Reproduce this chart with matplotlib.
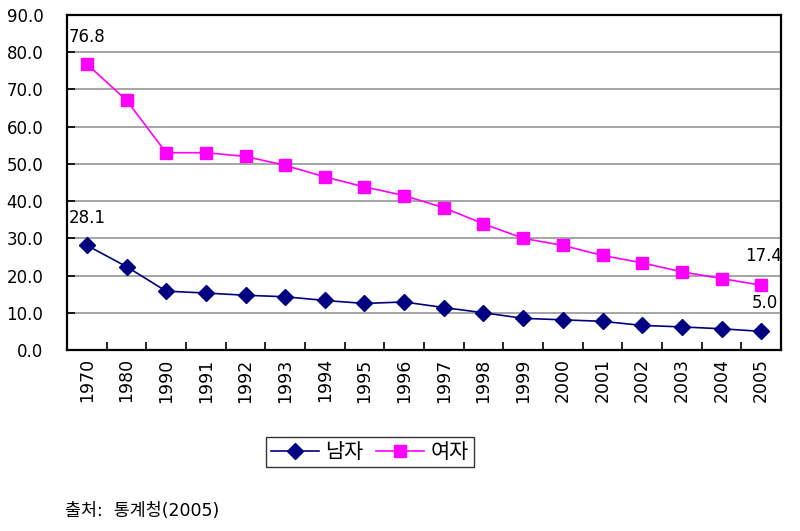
import matplotlib
matplotlib.use("Agg")
import matplotlib.pyplot as plt
import numpy as np

plt.rcParams['font.family'] = ['DejaVu Sans', 'Noto Sans CJK KR']

years = ['1970', '1980', '1990', '1991', '1992', '1993', '1994', '1995', '1996',
         '1997', '1998', '1999', '2000', '2001', '2002', '2003', '2004', '2005']
male = [28.1, 22.4, 15.8, 15.3, 14.7, 14.3, 13.3, 12.5, 12.9,
        11.4, 10.0, 8.5, 8.1, 7.7, 6.6, 6.2, 5.7, 5.0]
female = [76.8, 67.1, 53.0, 53.0, 52.0, 49.6, 46.5, 43.8, 41.5,
          38.2, 33.9, 30.0, 28.1, 25.4, 23.4, 21.0, 19.2, 17.4]
series_names = ['남자', '여자']
yticks = np.arange(0, 91, 10)

fig = plt.figure(figsize=(8, 5.31), dpi=100)
ax = fig.add_axes([0.08375, 0.3409, 0.8925, 0.6309])

x = np.arange(len(years))
ax.plot(x, male, color='#000080', lw=1.2, marker='D', ms=8,
        label=series_names[0], zorder=3)
ax.plot(x, female, color='#FF00FF', lw=1.2, marker='s', ms=8,
        label=series_names[1], zorder=3)

ax.set_xlim(-0.5, len(years) - 0.5)
ax.set_ylim(0, 90)
ax.set_yticks(yticks)
ax.set_yticklabels(['{:.1f}'.format(v) for v in yticks])
ax.yaxis.grid(True, color='#969696', lw=1.2)
ax.set_axisbelow(True)

ax.set_xticks(x)
ax.set_xticklabels(years, rotation=90, fontsize=12.5)
ax.set_xticks(np.arange(0.5, len(years) - 1, 1), minor=True)
ax.tick_params(axis='x', which='major', length=0, pad=6)
ax.tick_params(axis='x', which='minor', direction='in', length=6, width=1.2)
ax.tick_params(axis='y', direction='in', length=6, width=1.2, pad=17, labelsize=12)

for sp in ax.spines.values():
    sp.set_color('black')
    sp.set_linewidth(1.6)

# end-point labels
ann = dict(textcoords='offset pixels', fontsize=12, va='center')
ax.annotate('{:.1f}'.format(female[0]), (0, female[0]), xytext=(-18, 27), ha='left', **ann)
ax.annotate('{:.1f}'.format(male[0]), (0, male[0]), xytext=(-18, 27), ha='left', **ann)
ax.annotate('{:.1f}'.format(female[-1]), (x[-1], female[-1]), xytext=(21, 29), ha='right', **ann)
ax.annotate('{:.1f}'.format(male[-1]), (x[-1], male[-1]), xytext=(17, 28), ha='right', **ann)

leg = fig.legend(loc='center', bbox_to_anchor=(370 / 800, 1 - 452 / 531), ncol=2,
                 fontsize=15, frameon=True, fancybox=False, edgecolor='black',
                 handlelength=2.3, columnspacing=0.6, handletextpad=0.3,
                 borderpad=0.25, markerscale=1.0)
leg.get_frame().set_linewidth(1.0)

fig.text(65 / 800, 1 - 511 / 531, '출처:  통계청(2005)', fontsize=12.5, va='center', ha='left')

fig.savefig('out.png', dpi=100)
